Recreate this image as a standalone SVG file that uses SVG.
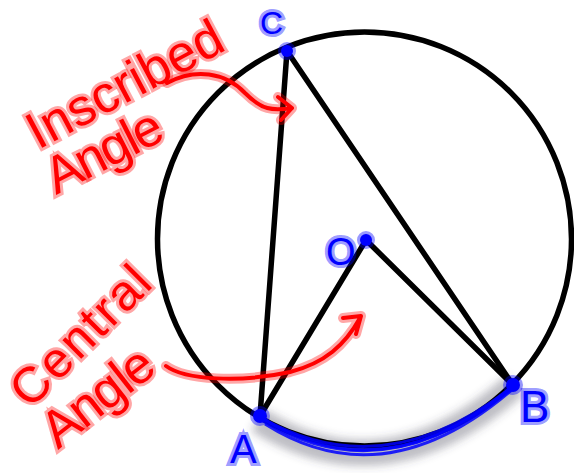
<svg xmlns="http://www.w3.org/2000/svg" width="574" height="473" viewBox="0 0 574 473">
<style>
.blk{fill:none;stroke:#000;stroke-width:5.5;stroke-linecap:round}
.red{fill:none;stroke:#f00;stroke-width:4;stroke-linecap:round;stroke-linejoin:round}
.redh{fill:none;stroke:#f00;stroke-opacity:0.35;stroke-width:10;stroke-linecap:round;stroke-linejoin:round}
.rt{font-family:"Liberation Sans","DejaVu Sans",sans-serif;fill:#f00;stroke:#f00;stroke-opacity:0.35;stroke-width:6;paint-order:stroke}
.bt{font-family:"Liberation Sans","DejaVu Sans",sans-serif;fill:#00f;stroke:#00f;stroke-opacity:0.4;stroke-width:6;paint-order:stroke}
.dot{fill:#00f;stroke:#00f;stroke-opacity:0.4;stroke-width:6}
.arc{fill:none;stroke:#00f;stroke-width:3;stroke-opacity:0.85}
</style>
<defs>
<filter id="blur" x="-20%" y="-50%" width="140%" height="200%"><feGaussianBlur stdDeviation="4"/></filter>
</defs>
<g id="shading">
<path d="M258,420 Q385,500 515,385" fill="none" stroke="#445" stroke-opacity="0.35" stroke-width="26" filter="url(#blur)"/>
</g>
<g id="circle"><circle cx="364.5" cy="239" r="207" class="blk"/></g>
<g id="arcAB">
<path d="M262,418 Q385,495 513,386" class="arc" stroke-width="8" stroke-opacity="0.5"/>
<path d="M262,418 Q385,488 513,386" class="arc"/>
<path d="M263,421 Q385,494 514,387" class="arc"/>
<path d="M265,424 Q385,500 514,388" class="arc"/>
</g>
<g id="connectors">
<line x1="287" y1="51" x2="260" y2="416" class="blk"/>
<line x1="287" y1="51" x2="513" y2="385" class="blk"/>
<line x1="366" y1="240" x2="260" y2="416" class="blk"/>
<line x1="366" y1="240" x2="513" y2="385" class="blk"/>
</g>
<g id="pointC"><circle cx="287" cy="51" r="6" class="dot"/><text x="260" y="34" class="bt" font-size="32">C</text></g>
<g id="pointO"><circle cx="366" cy="240" r="6" class="dot"/><text x="326" y="265" class="bt" font-size="38">O</text></g>
<g id="pointA"><circle cx="260" cy="416" r="7" class="dot"/><text x="230" y="463" class="bt" font-size="40">A</text></g>
<g id="pointB"><circle cx="513" cy="385" r="7" class="dot"/><text x="520" y="422" class="bt" font-size="44">B</text></g>
<g id="label-inscribed">
<text class="rt" font-size="52" textLength="215" transform="translate(38,150) rotate(-28)">Inscribed</text>
<text class="rt" font-size="52" textLength="125" transform="translate(56,195) rotate(-27)">Angle</text>
<path d="M167,83 C195,68 225,72 245,93 C262,110 272,111 292,108 M278,97 L292,108 L281,120" class="redh"/>
<path d="M167,83 C195,68 225,72 245,93 C262,110 272,111 292,108 M278,97 L292,108 L281,120" class="red"/>
</g>
<g id="label-central">
<text class="rt" font-size="50" textLength="176" transform="translate(30,410) rotate(-45)">Central</text>
<text class="rt" font-size="52" textLength="128" transform="translate(58,450) rotate(-38)">Angle</text>
<path d="M166,366 C185,380 240,383 290,372 C325,363 345,345 360,318 M343,318 L361,316 L356,334" class="redh"/>
<path d="M166,366 C185,380 240,383 290,372 C325,363 345,345 360,318 M343,318 L361,316 L356,334" class="red"/>
</g>
</svg>
